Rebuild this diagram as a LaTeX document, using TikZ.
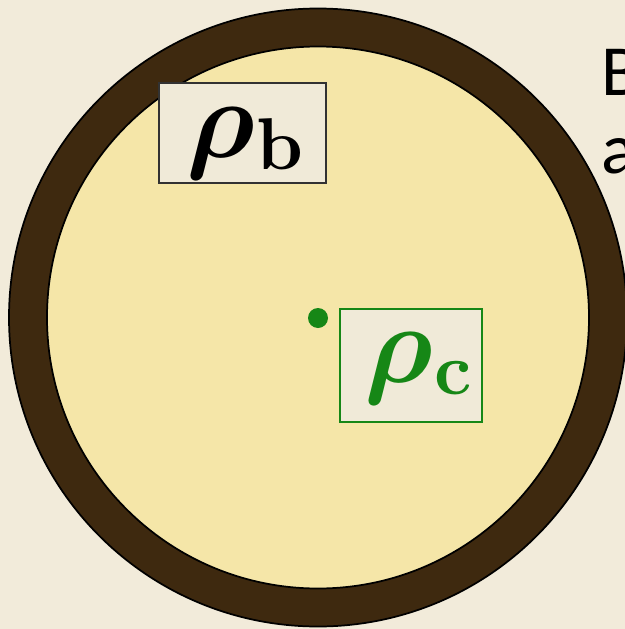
\documentclass[tikz,border=0pt]{standalone}
\usepackage{amsmath,amssymb,bm,graphicx}
\usepackage{fontspec}
\newfontfamily\slidefont{Carlito}
\definecolor{bgc}{RGB}{242,235,218}
\definecolor{ringc}{RGB}{62,41,15}
\definecolor{innerc}{RGB}{245,230,168}
\definecolor{boxc}{RGB}{240,234,216}
\definecolor{greenc}{RGB}{22,135,22}
\definecolor{edgec}{RGB}{50,50,50}
\tikzset{
  lblbox/.style={draw=edgec, fill=boxc, line width=1.1pt, inner sep=0pt, rectangle},
  greenbox/.style={lblbox, draw=greenc},
  rholabel/.style={anchor=base west, inner sep=0pt, outer sep=0pt},
  slidetext/.style={anchor=base west, inner sep=0pt, font=\slidefont\fontsize{54}{54}\selectfont},
}
\newcommand{\rhosub}[1]{\scalebox{8.4}{$\bm{\rho}$}\kern1.5pt\raisebox{-9.5pt}{\scalebox{5.5}{\textbf{#1}}}}
\begin{document}
\begin{tikzpicture}[x=0.75pt,y=-0.75pt]
\useasboundingbox (0,0) rectangle (625,629);
\clip (0,0) rectangle (625,629);
\fill[bgc] (0,0) rectangle (625,629);
% text at right, cut by the edge
\node[slidetext] (tb) at (601,95) {B};
\node[slidetext] (ta) at (601,173) {a};
% ring
\draw[fill=ringc, line width=1.3pt] (318,317.5) circle [radius=231.75pt];
\draw[fill=innerc, line width=1.3pt] (318,317.5) circle [radius=203.25pt];
% rho_b label
\node[lblbox, minimum width=125.25pt, minimum height=75pt] (rb) at (242.5,133) {};
\node[rholabel] (rbt) at (186,157) {\rhosub{b}};
% centre dot
\fill[greenc] (318,318) circle [radius=7.5pt];
\coordinate (centre) at (318,318);
% rho_c label
\node[greenbox, minimum width=106.5pt, minimum height=84.75pt] (rc) at (411,365.5) {};
\node[rholabel, text=greenc] (rct) at (364,382) {\color{greenc}\rhosub{c}};
\end{tikzpicture}
\end{document}
